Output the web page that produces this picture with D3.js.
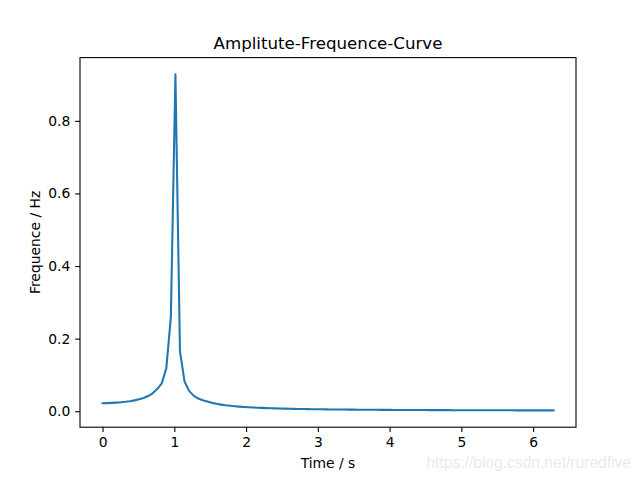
<!DOCTYPE html>
<html>
<head>
<meta charset="utf-8">
<script src="https://cdn.jsdelivr.net/npm/d3@7"></script>
<style>
  html, body { margin: 0; padding: 0; background: #fff; }
  svg { display: block; }
  text { font-family: "DejaVu Sans", sans-serif; }
</style>
</head>
<body>
<svg id="chart" width="640" height="480"></svg>
<script>
// ---- data ----
const title = "Amplitute-Frequence-Curve";
const xLabel = "Time / s";
const yLabel = "Frequence / Hz";
const watermark = "https://blog.csdn.net/ruredfive";
const sampleCount = 100;          // samples between 0 and 2*pi
const xStart = 0, xEnd = 2 * Math.PI;
const amplitude = [
  0.0220, 0.02235, 0.02289, 0.02366, 0.02467, 0.02599, 0.02768, 0.02987, 0.03272, 0.03653,
  0.04177, 0.04931, 0.06102, 0.0770, 0.1180, 0.2600, 0.9280, 0.1650, 0.0820, 0.0560,
  0.0430, 0.0350, 0.0300, 0.0265, 0.0230, 0.0203, 0.0182, 0.0164, 0.01495, 0.01372,
  0.01267, 0.01175, 0.01096, 0.01027, 0.00965, 0.00911, 0.00862, 0.00817, 0.00778, 0.00742,
  0.00709, 0.00679, 0.00651, 0.00626, 0.00603, 0.00581, 0.00561, 0.00542, 0.00525, 0.00509,
  0.00494, 0.00480, 0.00467, 0.00454, 0.00442, 0.00430, 0.00420, 0.00410, 0.00400, 0.00391,
  0.00383, 0.00375, 0.00368, 0.00361, 0.00354, 0.00347, 0.00341, 0.00335, 0.00329, 0.00323,
  0.00318, 0.00313, 0.00308, 0.00303, 0.00298, 0.00294, 0.00290, 0.00286, 0.00282, 0.00278,
  0.00275, 0.00272, 0.00268, 0.00265, 0.00262, 0.00259, 0.00256, 0.00253, 0.00250, 0.00248,
  0.00245, 0.00243, 0.00240, 0.00238, 0.00235, 0.00233, 0.00231, 0.00229, 0.00227, 0.00225
];
const xTicks = [0, 1, 2, 3, 4, 5, 6];
const yTicks = [0.0, 0.2, 0.4, 0.6, 0.8];

// sample positions of the curve (evenly spaced from 0 to 2*pi)
const times = d3.range(sampleCount).map(i => xStart + i * (xEnd - xStart) / (sampleCount - 1));
const points = times.map((t, i) => ({ t, v: amplitude[i] }));

// ---- layout (matplotlib default figure 6.4x4.8 in @100dpi) ----
const plotLeft = 80, plotRight = 576, plotTop = 57.6, plotBottom = 427.2;
const fs = 13.89;

const svg = d3.select("#chart");

function padded(lo, hi) { const r = hi - lo; return [lo - 0.05 * r, hi + 0.05 * r]; }
const x = d3.scaleLinear().domain(padded(xStart, xEnd)).range([plotLeft, plotRight]);
const yMin = d3.min(amplitude), yMax = d3.max(amplitude);
const y = d3.scaleLinear().domain(padded(yMin, yMax)).range([plotBottom, plotTop]);

// curve
svg.append("path")
  .datum(points)
  .attr("fill", "none")
  .attr("stroke", "#1f77b4")
  .attr("stroke-width", 2.08)
  .attr("stroke-linejoin", "round")
  .attr("stroke-linecap", "square")
  .attr("d", d3.line().x(d => x(d.t)).y(d => y(d.v)));

// axes
const xAxis = d3.axisBottom(x).tickValues(xTicks).tickFormat(d3.format("d")).tickSizeInner(4.86).tickSizeOuter(0).tickPadding(4.86);
const yAxis = d3.axisLeft(y).tickValues(yTicks).tickFormat(d3.format(".1f")).tickSizeInner(4.86).tickSizeOuter(0).tickPadding(4.86);

const gx = svg.append("g").attr("transform", `translate(0,${plotBottom})`).call(xAxis);
const gy = svg.append("g").attr("transform", `translate(${plotLeft},0)`).call(yAxis);
[gx, gy].forEach(g => {
  g.select(".domain").remove();
  g.selectAll(".tick line").attr("stroke", "#000").attr("stroke-width", 1.1);
  g.selectAll(".tick text").attr("fill", "#000").style("font-size", fs + "px").style("font-family", "DejaVu Sans");
});
gx.selectAll(".tick text").attr("dy", "0.75em");

// frame
svg.append("rect")
  .attr("x", plotLeft).attr("y", plotTop)
  .attr("width", plotRight - plotLeft).attr("height", plotBottom - plotTop)
  .attr("fill", "none").attr("stroke", "#000").attr("stroke-width", 1.1);

// title
svg.append("text")
  .attr("x", (plotLeft + plotRight) / 2).attr("y", 49)
  .attr("text-anchor", "middle")
  .style("font-size", "16.67px")
  .text(title);

// axis labels
svg.append("text")
  .attr("x", (plotLeft + plotRight) / 2).attr("y", 468)
  .attr("text-anchor", "middle")
  .style("font-size", fs + "px")
  .text(xLabel);

svg.append("text")
  .attr("transform", `translate(40,${(plotTop + plotBottom) / 2}) rotate(-90)`)
  .attr("text-anchor", "middle")
  .style("font-size", fs + "px")
  .text(yLabel);

// watermark
svg.append("text")
  .attr("x", 631).attr("y", 468)
  .attr("text-anchor", "end")
  .attr("fill", "#ebebeb")
  .style("font-family", "Liberation Sans, Arial, sans-serif")
  .style("font-size", "15.6px")
  .text(watermark);
</script>
</body>
</html>
